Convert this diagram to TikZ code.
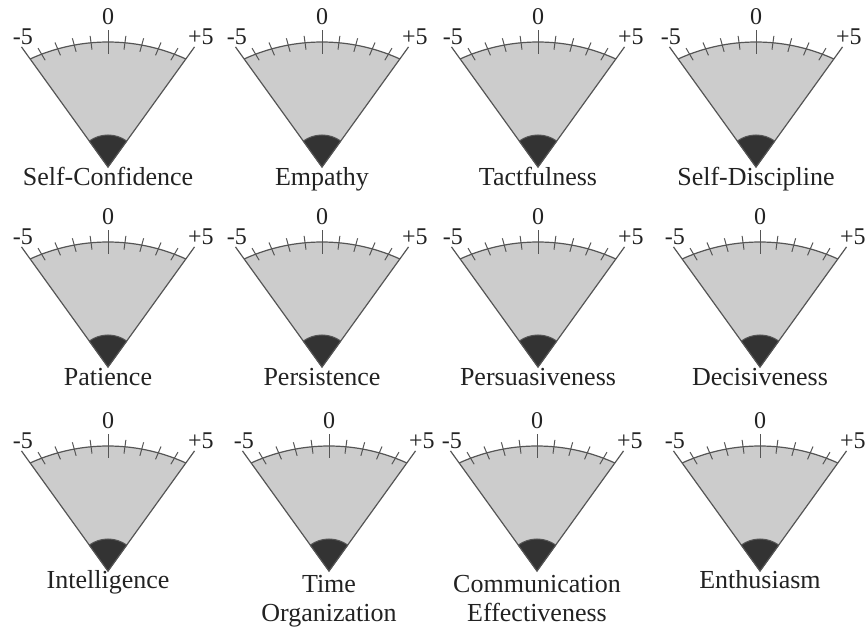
\documentclass[tikz,border=0pt]{standalone}
\usepackage{fontspec}
\setmainfont{Liberation Serif}
\usepackage{tikz}
\usetikzlibrary{calc,positioning}
\definecolor{dialfill}{HTML}{CCCCCC}
\definecolor{dialline}{HTML}{555555}
\definecolor{dialdark}{HTML}{333333}
\definecolor{dialtext}{HTML}{222222}

\begin{document}
\begin{tikzpicture}[x=1pt,y=1pt,
    dial/.style={draw=dialline,line width=1.2pt},
    tick/.style={draw=dialline,line width=1pt},
    num/.style={text=dialtext,inner sep=0pt,font=\fontsize{24}{28}\selectfont},
    lbl/.style={text=dialtext,inner sep=0pt,anchor=base,align=center,font=\fontsize{26}{29}\selectfont}]
    \useasboundingbox (0,0) rectangle (868,632);

    \foreach \n/\x/\y/\ly/\t in {1/108/465/-19/Self-Confidence, 2/322/465/-19/Empathy, 3/538/465/-19/Tactfulness, 4/756/465/-19/Self-Discipline,
                                 5/108/265/-19/Patience, 6/322/265/-19/Persistence, 7/538/265/-19/Persuasiveness, 8/760/265/-19/Decisiveness,
                                 9/108/61/-18/Intelligence, 10/329/61/-51/{Time\\Organization}, 11/537/61/-51/{Communication\\Effectiveness}, 12/760/61/-18/Enthusiasm}{
        \begin{scope}[shift={(\x,\y)}]
            \coordinate (a\n) at (0,0);
            % face and scale arc
            \fill[dialfill] (a\n) -- (-77.85,108.02) arc[start angle=114.6, end angle=65.4, radius=187] -- cycle;
            \draw[dial] (-77.85,108.02) arc[start angle=114.6, end angle=65.4, radius=187];
            \draw[dial] (125.78:148) -- (a\n) -- (54.22:148);
            % dark hub
            \filldraw[fill=dialdark,draw=dialline,line width=1pt] (a\n) -- (125.78:32) arc[start angle=125.78, end angle=54.22, radius=32] -- cycle;

            % ticks
            \foreach \k in {-4,-3,-2,-1,1,2,3,4}{
                \coordinate (p\n) at ({187*cos(90-5.2*\k)},{-62+187*sin(90-5.2*\k)});
                \draw[tick] ($(p\n)!7pt!(a\n)$) -- ($(p\n)!-7pt!(a\n)$);
            }
            \draw[tick] (0,113) -- (0,137);

            \node[num,anchor=base] (z\n) at (0,142) {0};
            \node[num,anchor=base east] (m\n) at (-75,122) {-5};
            \node[num,anchor=base west] (q\n) at (80,122) {+5};
            \node[lbl] (l\n) at (0,\ly) {\t};
        \end{scope}
    }
\end{tikzpicture}
\end{document}
